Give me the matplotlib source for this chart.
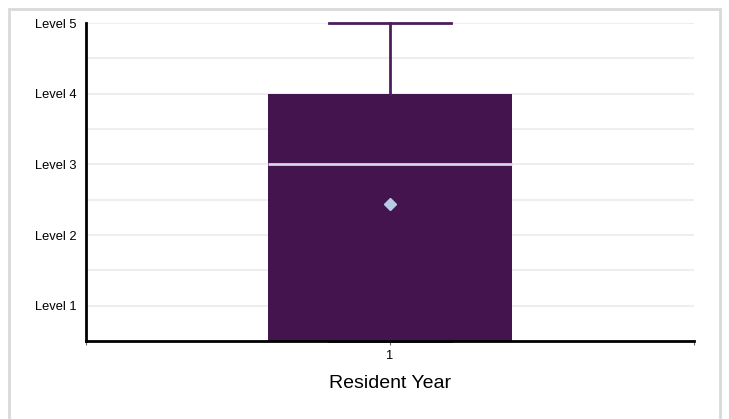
import matplotlib
matplotlib.use("Agg")
import matplotlib.pyplot as plt
from matplotlib.patches import Rectangle

plt.rcParams["font.family"] = ["Liberation Sans", "DejaVu Sans"]

# box statistics
CATEGORY = "1"
Q1 = 0.5
MEDIAN = 3.0
Q3 = 4.0
WHISKER_LO = 0.5
WHISKER_HI = 5.0
MEAN = 2.44
LEVELS = [1, 2, 3, 4, 5]
LEVEL_LABELS = ["Level 1", "Level 2", "Level 3", "Level 4", "Level 5"]

BOX = "#44144f"
LINE_C = "#4e1d5c"
MEDIAN_C = "#d6d4e6"
MEAN_C = "#b9cbe4"

fig = plt.figure(figsize=(7.29, 4.19), dpi=100)
fig.patches.append(Rectangle((9 / 729, -0.1), 711 / 729, 1.1 - 9 / 419,
                             transform=fig.transFigure, fill=False,
                             edgecolor="#d9d9d9", lw=2))
ax = fig.add_axes([86 / 729, 1 - 341 / 419, 608 / 729, 318 / 419])

stats = [{"label": CATEGORY, "q1": Q1, "med": MEDIAN, "q3": Q3,
          "whislo": WHISKER_LO, "whishi": WHISKER_HI, "mean": MEAN}]
bp = ax.bxp(stats, positions=[1], widths=0.4, patch_artist=True,
            showmeans=True, showfliers=False, capwidths=0.2,
            boxprops=dict(facecolor=BOX, edgecolor=BOX, lw=0),
            medianprops=dict(color=MEDIAN_C, lw=2),
            whiskerprops=dict(color=LINE_C, lw=2),
            capprops=dict(color=LINE_C, lw=2),
            meanprops=dict(marker="D", markerfacecolor=MEAN_C,
                           markeredgecolor=MEAN_C, markersize=6))
for art in bp["caps"] + bp["whiskers"]:
    art.set_clip_on(False)

ax.set_xlim(0.5, 1.5)
ax.set_ylim(0.5, 5)
ax.set_yticks(LEVELS)
ax.set_yticklabels(LEVEL_LABELS)
ax.set_yticks([l + 0.5 for l in LEVELS[:-1]], minor=True)
ax.set_xticks([1])
ax.set_xticklabels([CATEGORY])
ax.set_xticks([0.5, 1.5], minor=True)
ax.grid(True, axis="y", which="both", color="#eeeeee", lw=1.5)
ax.set_axisbelow(True)
ax.tick_params(axis="y", length=0, labelsize=9.3, pad=7, which="both")
ax.tick_params(axis="x", length=3, width=0.8, color="#666666",
               labelsize=9.3, which="both")
for s in ("top", "right"):
    ax.spines[s].set_visible(False)
ax.spines["left"].set_linewidth(2)
ax.spines["bottom"].set_linewidth(2)
ax.set_xlabel("Resident Year", fontsize=14, labelpad=9)

fig.savefig("out.png", dpi=100)
